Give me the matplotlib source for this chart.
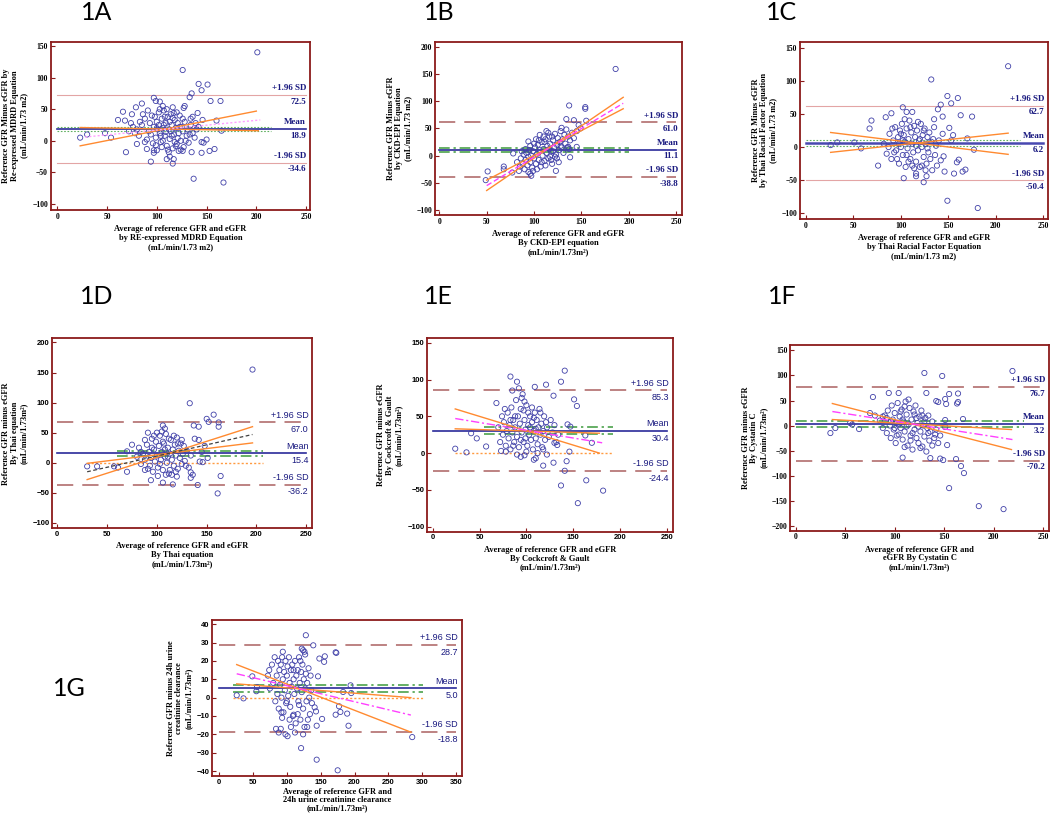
import matplotlib
matplotlib.use("Agg")
import matplotlib.pyplot as plt

# ---------------------------------------------------------------
# Values (Bland-Altman plots 1A-1G)
# ---------------------------------------------------------------

# 1A - Re-expressed MDRD
A_PTS = [(201, 140), (126, 112), (142, 90), (151, 89), (145, 80), (135, 75), (133, 69),
         (154, 63), (164, 63), (97, 68), (99, 63), (103, 62), (106, 55), (116, 53), (128, 55),
         (127, 52), (85, 59), (79, 53), (66, 46), (75, 42), (61, 33), (68, 32), (23, 5),
         (30, 10), (48, 12), (54, 5), (69, -18), (94, -33), (116, -36), (110, -29), (137, -60),
         (167, -66), (145, -19), (153, -16), (158, -13), (150, 2), (147, -3), (165, 16),
         (160, 32), (146, 33), (141, 44), (136, 38), (134, 35), (135, -18), (126, -16),
         (122, -16), (90, -13), (97, -19), (80, -5), (99, -7), (113, -25), (117, -29),
         (85, 25), (88, 35), (92, 15), (95, 40), (97, 22), (99, 5), (100, 30), (102, 45),
         (103, 12), (104, -2), (105, 35), (106, 20), (107, 48), (108, 8), (109, 28), (110, -8),
         (111, 38), (112, 18), (113, 3), (114, 42), (115, 25), (116, -12), (117, 10), (118, 33),
         (119, 20), (120, -5), (121, 28), (122, 12), (123, 40), (124, 0), (125, 22), (126, 15),
         (127, -10), (128, 30), (130, 8), (131, 18), (132, -3), (134, 25), (136, 12), (138, 5),
         (90, 2), (93, 28), (96, -4), (98, 38), (101, 18), (103, 50), (105, -10), (107, 25),
         (109, 14), (111, -14), (113, 30), (115, 8), (117, 44), (119, -8), (121, 4), (123, 22),
         (80, 18), (82, 8), (76, 22), (78, 12), (72, 15), (74, 28), (86, 42), (88, -2), (94, 10),
         (100, -15), (106, 0), (112, -18), (118, -2), (124, -14), (129, 0), (133, 10), (140, 18),
         (142, 22), (145, -2), (139, 28), (83, 30), (91, 48), (97, -15), (102, 25), (108, 38),
         (114, 15), (120, 45), (126, 35), (110, 50), (116, 36), (104, 8), (100, 20)]
A_STATS = [72.5, 18.9, -34.6]          # +1.96 SD, mean, -1.96 SD
A_MEAN_CI = [22.5, 15.0]
A_REG = [(28, 6, 204, 33)]
A_REG_CI = [(23, -8, 200, 47), (23, 21, 202, 16)]

# 1B - CKD-EPI
B_PTS = [(186, 159), (137, 92), (154, 89), (154, 86), (134, 67), (142, 65), (155, 64),
         (147, 56), (149, 50), (129, 51), (49, -45), (51, -29), (68, -20), (68, -25), (78, 4),
         (77, -31), (96, -33), (97, -37), (94, 26), (123, -28), (136, 16), (138, -3), (145, 16),
         (82, -12), (85, -20), (86, -5), (88, -15), (89, 2), (90, -25), (91, -8), (92, 5),
         (93, -18), (94, -2), (95, 10), (96, -12), (97, 0), (98, -22), (99, 8), (100, -5),
         (101, 15), (102, -15), (103, 3), (104, 20), (105, -8), (106, 10), (107, -20), (108, 25),
         (109, 0), (110, 12), (111, -10), (112, 30), (113, 5), (114, 18), (115, -5), (116, 35),
         (117, 22), (118, 8), (119, -15), (120, 28), (121, 15), (122, 40), (123, 2), (124, 20),
         (125, 32), (126, 10), (127, 25), (128, 45), (129, 15), (130, 30), (131, 5), (132, 38),
         (133, 22), (134, 48), (136, 35), (138, 28), (140, 42), (142, 32), (145, 45), (100, 22),
         (105, 28), (110, 35), (115, 42), (108, -12), (112, -18), (118, -8), (122, -2), (96, 18),
         (103, -25), (113, 45), (117, -2), (120, 8), (126, -12), (91, 12), (87, 8), (84, -28),
         (99, -28), (106, 38), (111, 25), (116, 12), (124, -5), (128, 18), (135, 15), (137, 12),
         (119, 35), (102, 30), (94, -30)]
B_STATS = [61.0, 11.1, -38.8]
B_MEAN_CI = [14.7, 7.3]
B_REG = [(50, -55, 194, 96)]
B_REG_CI = [(50, -64, 194, 107), (50, -45, 194, 86)]

# 1C - Thai racial factor
C_PTS = [(213, 122), (132, 102), (149, 77), (160, 74), (153, 66), (142, 64), (139, 57),
         (163, 48), (175, 46), (144, 46), (135, 42), (102, 60), (106, 53), (112, 53), (84, 45),
         (90, 51), (69, 40), (67, 28), (26, 3), (33, 7), (51, 7), (58, -2), (76, -28),
         (103, -47), (116, -40), (116, -44), (127, -44), (124, -53), (149, -81), (181, -92),
         (177, -4), (170, 13), (161, -19), (159, -23), (156, -40), (165, -37), (168, -34),
         (146, -37), (145, -14), (151, 29), (155, 18), (153, 10),
         (82, 5), (85, -10), (88, 20), (90, -18), (92, 10), (94, 30), (95, -5), (97, 15),
         (98, -25), (99, 25), (100, 0), (101, 35), (102, -12), (103, 18), (104, 8), (105, -30),
         (106, 28), (107, -2), (108, 12), (109, 40), (110, -18), (111, 22), (112, 5), (113, -8),
         (114, 32), (115, 15), (116, -22), (117, 25), (118, -5), (119, 10), (120, -30), (121, 35),
         (122, 0), (123, 18), (124, -15), (125, 28), (126, 5), (127, -25), (128, 15), (129, -8),
         (130, 22), (131, -18), (132, 8), (133, -35), (134, 12), (135, 30), (136, -12), (137, 2),
         (138, -28), (140, 10), (142, -20), (144, 20), (126, -35), (122, -28), (118, 38),
         (112, -28), (108, -22), (104, 42), (96, -18), (93, -8), (91, 28), (87, 0), (120, 12),
         (114, -32), (110, 30), (116, 2), (100, 20), (106, -12), (124, 25), (128, -2), (102, 10),
         (98, 5)]
C_STATS = [62.7, 6.2, -50.4]
C_MEAN_CI = [10.0, 2.0]
C_REG = []
C_REG_CI = [(26, 22, 213, -11), (26, -8, 213, 21)]

# 1D - Thai equation
D_PTS = [(196, 155), (133, 99), (157, 80), (150, 73), (152, 68), (162, 67), (162, 60),
         (142, 60), (137, 62), (138, 40), (142, 38), (106, 62), (108, 57), (91, 50), (88, 38),
         (75, 30), (70, 19), (30, -6), (40, -6), (57, -6), (61, -8), (70, -15), (94, -29),
         (106, -33), (116, -36), (141, -37), (161, -51), (164, -22), (134, -16), (136, -20),
         (134, -25), (120, -23), (146, 1), (151, 8), (148, 28), (145, 18), (143, 2),
         (80, 10), (82, 25), (84, -2), (86, 15), (88, 5), (90, 30), (91, -10), (92, 18), (94, 8),
         (95, 40), (96, -15), (97, 22), (98, 2), (99, 35), (100, 12), (101, -8), (102, 28),
         (103, 45), (104, 5), (105, 18), (106, -12), (107, 32), (108, 10), (109, 48), (110, 0),
         (111, 25), (112, -18), (113, 15), (114, 38), (115, 5), (116, 22), (117, -5), (118, 30),
         (119, 12), (120, 42), (121, -10), (122, 20), (123, 8), (124, 32), (125, -2), (126, 15),
         (127, 28), (128, 3), (130, 20), (132, -8), (134, 12), (93, -5), (97, 45), (101, -22),
         (105, 52), (109, -20), (113, -12), (117, 45), (121, 32), (125, 38), (129, -5), (88, -12),
         (84, 18), (111, 10), (115, -20), (119, -15), (100, 50), (106, 35), (103, -2), (95, 25),
         (108, 22), (112, 40)]
D_STATS = [67.0, 15.4, -36.2]
D_MEAN_CI = [20.0, 11.0]
D_REG = [(30, -15, 196, 47)]
D_REG_CI = [(30, -28, 196, 60), (30, -1, 196, 33)]

# 1E - Cockcroft & Gault
E_PTS = [(141, 112), (137, 97), (83, 104), (90, 97), (109, 90), (121, 93), (129, 78),
         (151, 73), (154, 64), (68, 68), (24, 6), (36, 1), (41, 27), (47, 20), (57, 9), (73, 3),
         (78, 2), (170, 14), (163, 24), (147, 36), (144, 39), (146, 2), (143, -11), (141, -24),
         (129, -13), (118, -17), (137, -44), (164, -37), (155, -68), (182, -51), (110, -7),
         (108, -9), (98, -3), (94, -5), (122, -2), (133, 11), (130, 14),
         (70, 35), (72, 15), (74, 50), (75, 25), (76, 42), (78, 10), (79, 30), (80, 55), (81, 20),
         (82, 38), (83, 5), (84, 62), (85, 28), (86, 45), (87, 15), (88, 35), (89, 72), (90, 22),
         (91, 50), (92, 8), (93, 40), (94, 60), (95, 28), (96, 80), (97, 15), (98, 45), (99, 32),
         (100, 65), (101, 10), (102, 38), (103, 25), (104, 50), (105, 18), (106, 42), (107, 5),
         (108, 30), (109, 55), (110, 20), (111, 45), (112, 12), (113, 35), (114, 60), (115, 25),
         (116, 40), (117, 8), (118, 30), (119, 50), (120, 18), (122, 35), (124, 22), (126, 45),
         (128, 28), (130, 38), (132, 15), (134, 25), (77, 60), (85, 85), (92, 88), (95, 75),
         (98, 70), (102, 55), (106, 62), (90, -2), (100, 2), (112, 0), (115, 55), (118, 5),
         (121, 42), (88, 50), (94, 18), (104, 35), (108, 48), (99, 20), (110, 33), (86, 10),
         (83, 45), (97, 58)]
E_STATS = [85.3, 30.4, -24.4]
E_MEAN_CI = [35.0, 26.0]
E_REG = [(24, 47, 181, 14)]
E_REG_CI = [(24, 60, 178, 0), (24, 33, 178, 27)]

# 1F - Cystatin C
F_PTS = [(219, 109), (130, 105), (148, 99), (78, 57), (94, 65), (132, 65), (104, 65),
         (155, 63), (164, 64), (164, 47), (163, 44), (151, 53), (152, 43), (142, 49), (144, 47),
         (169, 13), (35, -15), (40, -5), (55, 5), (57, 2), (64, -7), (108, -64), (110, -43),
         (136, -65), (146, -66), (149, -69), (153, -39), (162, -67), (167, -81), (170, -95),
         (155, -125), (185, -161), (210, -167), (151, 11), (151, -3),
         (85, 10), (88, -5), (90, 20), (92, -15), (93, 30), (95, 0), (96, -25), (97, 40), (98, 12),
         (99, -8), (100, 25), (101, -35), (102, 5), (103, 45), (104, -18), (105, 18), (106, -5),
         (107, 32), (108, -28), (109, 8), (110, -12), (111, 48), (112, 22), (113, -40), (114, 2),
         (115, 35), (116, -20), (117, 12), (118, -48), (119, 28), (120, -8), (121, 40),
         (122, -25), (123, 5), (124, -35), (125, 18), (126, -12), (127, 30), (128, -42), (129, 0),
         (130, -22), (131, 15), (132, -52), (133, -5), (134, 20), (135, -30), (136, -12), (138, 8),
         (140, -25), (142, -8), (144, -35), (146, -20), (100, -5), (106, 28), (112, -2), (114, 52),
         (118, -15), (122, 15), (126, -45), (130, 8), (110, 38), (104, 2), (116, -30), (120, 22),
         (124, -2), (108, 12), (102, -20), (96, 8), (92, 15), (88, 18), (128, 20), (134, -15),
         (138, -40), (141, -18), (80, 20), (75, 25)]
F_STATS = [76.7, 3.2, -70.2]
F_MEAN_CI = [9.0, -2.0]
F_REG = [(37, 28, 219, -28)]
F_REG_CI = [(37, 44, 218, -48), (37, 12, 218, -8)]

# 1G - 24h urine creatinine clearance
G_PTS = [(128, 34), (139, 28.5), (173, 24.4), (122, 26.7), (124, 25.8), (127, 23.5),
         (148, 21.3), (156, 22.5), (155, 19.5), (146, 11.6), (26, 1.3), (36, -0.4), (49, 11.6),
         (56, 5.8), (55, 3.5), (101, -21), (121, -27.5), (144, -33.8), (175, -39.6), (194, 6.7),
         (195, 2.5), (189, -8.7), (191, -15.3), (179, -7.8), (172, -9.3), (177, -4.7),
         (144, -15.3), (152, -11.6), (141, -5.3), (143, -7.5), (91, -17), (93, -11), (110, -9.3),
         (285, -21.5), (183, 3.1), (172, 24.7),
         (72, 12), (74, 15), (75, 5), (78, 18), (80, 8), (82, 22), (83, -2), (85, 12), (86, 2),
         (87, 20), (88, -6), (89, 15), (90, 7), (91, 18), (92, 0), (93, 22), (94, 10), (95, -8),
         (96, 14), (97, 4), (98, 20), (99, -3), (100, 12), (101, 17), (102, 1), (103, 22),
         (104, 8), (105, -5), (106, 15), (107, 6), (108, 18), (109, -10), (110, 10), (111, 2),
         (112, 20), (113, -14), (114, 12), (115, 5), (116, 15), (117, -2), (118, 22), (119, 8),
         (120, -12), (121, 14), (122, 3), (123, 18), (124, -6), (125, 10), (126, -16), (127, 5),
         (128, 13), (129, -2), (130, 8), (131, -12), (132, 16), (133, 0), (134, -9), (135, 12),
         (136, 4), (137, -3), (84, -17), (88, -19), (98, -20), (106, -16), (112, -19), (116, -9),
         (124, -20), (130, -16), (100, -2), (92, -8), (118, -4), (104, -12), (110, 15), (94, 25),
         (126, 25), (120, 20)]
G_STATS = [28.7, 5.0, -18.8]
G_MEAN_CI = [7.0, 3.0]
G_REG = [(26, 13, 283, -9.5)]
G_REG_CI = [(26, 18, 283, -18.8), (26, 7.5, 283, 0)]

# ---------------------------------------------------------------
FRAME = "#8b1a1a"
NAVY = "#1a1a80"
DOTS = "#4040a8"
SERIF = "Liberation Serif"
SANS = "Liberation Sans"


def draw_panel(ax, pts, stats, mean_ci, reg, reg_ci, cfg):
    """Draws one Bland-Altman panel."""
    xs = [p[0] for p in pts]
    ys = [p[1] for p in pts]
    x0, x1 = cfg["xlim"]
    full = (0, cfg["xmax"])
    upper, mean, lower = stats

    # limits of agreement
    if cfg["thin"]:
        lim_kw = dict(color="#e3a5a5", lw=0.8, ls="-")
    else:
        lim_kw = dict(color="#b87878", lw=1.3, ls=(0, (9, 5)))
    ax.plot(full, [upper, upper], **lim_kw)
    ax.plot(full, [lower, lower], **lim_kw)

    # mean line + CI of mean
    ax.plot(full, [mean, mean], color=cfg.get("mean_color", "#2a2a9a"),
            lw=cfg.get("mean_lw", 1.2), zorder=3)
    ci_x = cfg["ci_x"]
    for v in mean_ci:
        if cfg["thin"]:
            ax.plot(ci_x, [v, v], color="#60b060", lw=0.8, ls=(0, (1.5, 1.5)), zorder=3)
        else:
            ax.plot(ci_x, [v, v], color="#3c9a3c", lw=1.1, ls=(0, (7, 2.5, 1.5, 2.5)), zorder=3)

    if cfg.get("zero_x"):
        ax.plot(cfg["zero_x"], [0, 0], color="#ff9a40", lw=1.0, ls=(0, (1.5, 1.5)), zorder=3)

    ax.scatter(xs, ys, s=14, facecolors="none", edgecolors=DOTS, linewidths=0.6, zorder=4)

    for xa, ya, xb, yb in reg_ci:
        ax.plot([xa, xb], [ya, yb], color="#ff8a30", lw=1.0, zorder=5)
    for xa, ya, xb, yb in reg:
        ax.plot([xa, xb], [ya, yb], **cfg["reg_style"], zorder=5)

    ax.set_xlim(x0, x1)
    ax.set_ylim(*cfg["ylim"])
    ax.set_xticks(cfg["xticks"])
    ax.set_yticks(cfg["yticks"])

    tick_font = SERIF if cfg["serif"] else SANS
    for s in ax.spines.values():
        s.set_color(FRAME)
        s.set_linewidth(1.3)
    ax.tick_params(direction="in", length=3, width=0.8, color=FRAME, labelsize=5.5, pad=2)
    for lab in ax.get_xticklabels() + ax.get_yticklabels():
        lab.set_fontfamily(tick_font)
        lab.set_fontweight("bold")

    ax.set_xlabel(cfg["xlabel"], family=SERIF, weight="bold", fontsize=6,
                  linespacing=cfg.get("xls", 1.15), labelpad=cfg.get("xpad", 3))
    ax.set_ylabel(cfg["ylabel"], family=SERIF, weight="bold", fontsize=6, linespacing=1.15, labelpad=3)

    # right-hand labels
    lab_kw = dict(xycoords=("axes fraction", "data"), textcoords="offset points", ha="right",
                  color=NAVY, fontsize=6.5, family=tick_font,
                  weight="bold" if cfg["serif"] else "normal")
    for name, val in (("+1.96 SD", upper), ("Mean", mean), ("-1.96 SD", lower)):
        ax.annotate(name, xy=(0.985, val), xytext=(0, 2), va="bottom", **lab_kw)
        ax.annotate(f"{val:.1f}", xy=(0.985, val), xytext=(0, -2), va="top", **lab_kw)


def main():
    fig = plt.figure(figsize=(10.5, 8.13), dpi=100)

    mag = dict(color="#ff40ff", lw=1.0, ls=(0, (6, 2, 1.5, 2)))
    panels = [
        ("1A", (97, 12), [0.0483, 0.7417, 0.2470, 0.2070], A_PTS, A_STATS, A_MEAN_CI, A_REG, A_REG_CI,
         dict(xlim=(-6.6, 254), ylim=(-109.5, 156.8), xmax=250, xticks=range(0, 251, 50),
              yticks=range(-100, 151, 50), thin=True, serif=True, ci_x=(0, 215),
              reg_style=dict(color="#ffa0ff", lw=1.0, ls=(0, (1.5, 1.5))),
              xlabel="Average of reference GFR and eGFR\nby RE-expressed MDRD Equation\n(mL/min/1.73 m2)",
              ylabel="Reference GFR Minus eGFR by\nRe-expressed MDRD Equation\n(mL/min/1.73 m2)")),
        ("1B", (439, 12), [0.4143, 0.7355, 0.2352, 0.2132], B_PTS, B_STATS, B_MEAN_CI, B_REG, B_REG_CI,
         dict(xlim=(-4.5, 256), ylim=(-109, 209), xmax=250, xticks=range(0, 251, 50),
              yticks=range(-100, 201, 50), thin=False, serif=True, ci_x=(0, 200),
              reg_style=dict(color="#ff40ff", lw=1.0, ls=(0, (4, 2))),
              xlabel="Average of reference GFR and eGFR\nBy CKD-EPI equation\n(mL/min/1.73m²)",
              ylabel="Reference GFR Minus eGFR\nby CKD-EPI Equation\n(mL/min/1.73 m2)")),
        ("1C", (782, 12), [0.7619, 0.7306, 0.2362, 0.2181], C_PTS, C_STATS, C_MEAN_CI, C_REG, C_REG_CI,
         dict(xlim=(-6.3, 255), ylim=(-108.6, 159), xmax=250, xticks=range(0, 251, 50),
              yticks=range(-100, 151, 50), thin=True, serif=True, ci_x=(0, 225), reg_style=mag,
              mean_color="#4848b0", mean_lw=1.8,
              xlabel="Average of reference GFR and eGFR\nby Thai Racial Factor Equation\n(mL/min/1.73 m2)",
              ylabel="Reference GFR Minus eGFR\nby Thai Racial Factor Equation\n(mL/min/1.73 m2)")),
        ("1D", (97, 296), [0.0498, 0.3502, 0.2476, 0.2337], D_PTS, D_STATS, D_MEAN_CI, D_REG, D_REG_CI,
         dict(xlim=(-5, 256), ylim=(-109, 207), xmax=250, xticks=range(0, 251, 50),
              yticks=range(-100, 201, 50), thin=False, serif=False, ci_x=(60, 207), zero_x=(30, 207),
              reg_style=dict(color="#404040", lw=0.9, ls=(0, (3, 2))),
              xlabel="Average of reference GFR and eGFR\nBy Thai equation\n(mL/min/1.73m²)",
              ylabel="Reference GFR minus eGFR\nBy Thai equation\n(mL/min/1.73m²)")),
        ("1E", (438, 296), [0.4070, 0.3460, 0.2337, 0.2379], E_PTS, E_STATS, E_MEAN_CI, E_REG, E_REG_CI,
         dict(xlim=(-5.8, 256.4), ylim=(-106.8, 156), xmax=250, xticks=range(0, 251, 50),
              yticks=range(-100, 151, 50), thin=False, serif=False, ci_x=(55, 193), zero_x=(24, 193),
              reg_style=mag,
              xlabel="Average of reference GFR and eGFR\nBy Cockcroft & Gault\n(mL/min/1.73m²)",
              ylabel="Reference GFR minus eGFR\nBy Cockcroft & Gault\n(mL/min/1.73m²)")),
        ("1F", (782, 296), [0.7524, 0.3473, 0.2467, 0.2284], F_PTS, F_STATS, F_MEAN_CI, F_REG, F_REG_CI,
         dict(xlim=(-5.8, 256), ylim=(-210, 161), xmax=250, xticks=range(0, 251, 50),
              yticks=range(-200, 151, 50), thin=False, serif=True, ci_x=(0, 231), reg_style=mag,
              xlabel="Average of reference GFR and\neGFR By Cystatin C\n(mL/min/1.73m²)",
              ylabel="Reference GFR minus eGFR\nBy Cystatin C\n(mL/min/1.73m²)")),
        ("1G", (69, 688), [0.2022, 0.0455, 0.2375, 0.1919], G_PTS, G_STATS, G_MEAN_CI, G_REG, G_REG_CI,
         dict(xlim=(-10, 358), ylim=(-42.7, 42.3), xmax=350, xticks=range(0, 351, 50),
              yticks=range(-40, 41, 10), thin=False, serif=False, ci_x=(20, 301), zero_x=(20, 301),
              reg_style=mag, xls=1.0, xpad=1.5,
              xlabel="Average of reference GFR and\n24h urine creatinine clearance\n(mL/min/1.73m²)",
              ylabel="Reference GFR minus 24h urine\ncreatinine clearance\n(mL/min/1.73m²)")),
    ]

    for tag, (tx, ty), rect, pts, stats, mci, reg, rci, cfg in panels:
        ax = fig.add_axes(rect)
        draw_panel(ax, pts, stats, mci, reg, rci, cfg)
        fig.text(tx / 1050, 1 - ty / 813, tag, ha="center", va="center", fontsize=18, family="Lato")

    fig.savefig("out.png", dpi=100)
    plt.close(fig)


if __name__ == "__main__":
    main()
